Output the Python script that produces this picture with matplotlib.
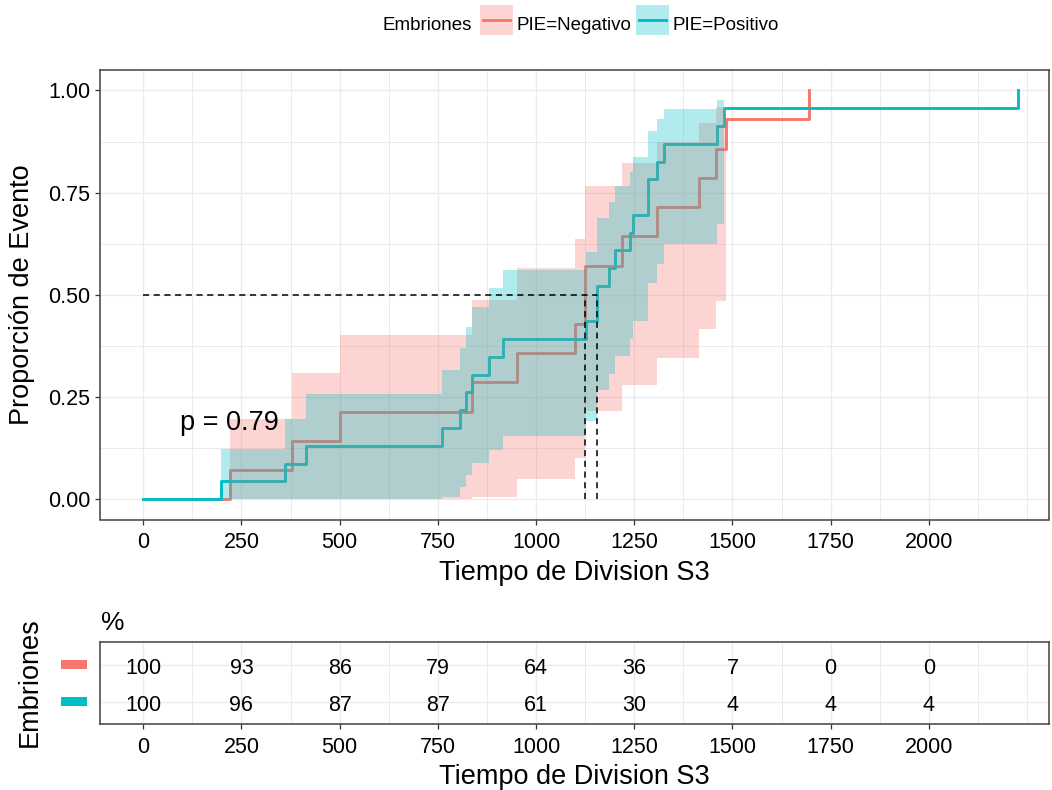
import numpy as np
import matplotlib
matplotlib.use('Agg')
import matplotlib.pyplot as plt
from matplotlib.patches import Rectangle
from matplotlib.lines import Line2D
from matplotlib.transforms import offset_copy

plt.rcParams['font.family'] = ['Liberation Sans', 'DejaVu Sans']

# curva acumulada de eventos (Kaplan-Meier, fun = "event")
neg_time = [0, 220, 378, 501, 837, 951, 1099, 1125, 1218, 1309, 1416, 1458, 1483, 1696]
neg_est = [0, 0.071, 0.143, 0.214, 0.286, 0.357, 0.429, 0.571, 0.643, 0.714, 0.786, 0.857, 0.929, 1.0]
# banda de confianza (termina en el ultimo tiempo con valor finito)
neg_low = [0, 0, 0, 0, 0.005, 0.050, 0.101, 0.215, 0.279, 0.346, 0.416, 0.485, 0.528]
neg_up = [0, 0.197, 0.308, 0.402, 0.487, 0.565, 0.637, 0.766, 0.823, 0.875, 0.921, 0.960, 0.989]

pos_time = [0, 198, 361, 414, 760, 806, 822, 838, 881, 917, 1127, 1156, 1187, 1201,
            1239, 1246, 1286, 1307, 1326, 1460, 1479, 2226]
pos_est = [0, 0.043, 0.087, 0.130, 0.174, 0.217, 0.261, 0.304, 0.348, 0.391, 0.435, 0.522,
           0.565, 0.609, 0.652, 0.696, 0.783, 0.826, 0.870, 0.913, 0.957, 1.0]
pos_low = [0, 0, 0, 0, 0.004, 0.029, 0.058, 0.088, 0.121, 0.155, 0.191, 0.267, 0.307, 0.349,
           0.391, 0.435, 0.528, 0.576, 0.625, 0.673, 0.704]
pos_up = [0, 0.123, 0.195, 0.258, 0.315, 0.369, 0.420, 0.469, 0.516, 0.561, 0.605, 0.688,
          0.727, 0.765, 0.801, 0.836, 0.900, 0.929, 0.955, 0.977, 0.994]

medians = [1125, 1156]
p_text = 'p = 0.79'

# tabla de porcentajes en riesgo
risk_times = [0, 250, 500, 750, 1000, 1250, 1500, 1750, 2000]
neg_pct = [100, 93, 86, 79, 64, 36, 7, 0, 0]
pos_pct = [100, 96, 87, 87, 61, 30, 4, 4, 4]

labels = ['PIE=Negativo', 'PIE=Positivo']
red = '#F8766D'
teal = '#00BFC4'

W, H = 1052, 790


def fx(x):
    return x / W


def fy(y):
    return 1 - y / H


fig = plt.figure(figsize=(W / 100, H / 100), dpi=100)
ax = fig.add_axes([fx(100), fy(519.5), fx(1049) - fx(100), fy(70) - fy(519.5)])
tab = fig.add_axes([fx(100), fy(724), fx(1049) - fx(100), fy(642.3) - fy(724)])

xmaj = np.arange(0, 2001, 250)
xmin = [125, 375, 625, 875, 1125, 1375, 1625, 1875, 2125, 2250]
grid_col = '#EBEBEB'
spine_col = '#404040'

for a in (ax, tab):
    a.set_xlim(-110, 2306)
    a.set_xticks(xmaj)
    a.set_xticks(xmin, minor=True)
    a.grid(which='major', color=grid_col, lw=1.0)
    a.grid(which='minor', color=grid_col, lw=0.7)
    a.set_axisbelow(True)
    for s in a.spines.values():
        s.set_color(spine_col)
        s.set_linewidth(1.1)
    a.tick_params(which='major', length=3.6, width=0.9, color='#333333',
                  labelsize=15.5, pad=3.5, labelcolor='black')
    a.tick_params(axis='x', which='major', pad=5.5)
    a.tick_params(which='minor', length=0)

# panel principal
ax.set_ylim(-0.05, 1.05)
ax.set_yticks([0, 0.25, 0.5, 0.75, 1.0])
ax.set_yticklabels(['0.00', '0.25', '0.50', '0.75', '1.00'])
ax.set_yticks([0.125, 0.375, 0.625, 0.875], minor=True)

ax.step(neg_time, neg_est, where='post', color=red, lw=2.1, zorder=2)
ax.step(pos_time, pos_est, where='post', color=teal, lw=2.1, zorder=2)
ax.fill_between(neg_time[:len(neg_low)], neg_low, neg_up, step='post',
                color=red, alpha=0.3, lw=0, zorder=3)
ax.fill_between(pos_time[:len(pos_low)], pos_low, pos_up, step='post',
                color=teal, alpha=0.3, lw=0, zorder=3)

ax.hlines(0.5, 0, max(medians), colors='black', linestyles=(0, (4, 3)), lw=1.1, zorder=5)
ax.vlines(medians, 0, 0.5, colors='black', linestyles=(0, (4, 3)), lw=1.1, zorder=5)

ax.text(93, 0.168, p_text, fontsize=19.5, ha='left', va='baseline', zorder=6)

ax.set_ylabel('Proporción de Evento', fontsize=19.5, va='center')
ax.yaxis.set_label_coords((fx(22) - fx(100)) / (fx(1049) - fx(100)), 0.5)
fig.text(0.5 * (fx(100) + fx(1049)), fy(580), 'Tiempo de Division S3',
         fontsize=19.5, ha='center', va='baseline')

# tabla
tab.set_ylim(0.4, 2.6)
tab.set_yticks([1, 2])
tab.set_yticklabels(['', ''])
tab.tick_params(axis='y', length=0)
num_tr = offset_copy(tab.transData, fig=fig, y=-4, units='dots')
for t, v in zip(risk_times, neg_pct):
    tab.text(t, 2, str(v), ha='center', va='center', fontsize=15.5, transform=num_tr)
for t, v in zip(risk_times, pos_pct):
    tab.text(t, 1, str(v), ha='center', va='center', fontsize=15.5, transform=num_tr)

ytr = tab.get_yaxis_transform()
for yv, c in ((2, red), (1, teal)):
    tab.add_patch(Rectangle((-0.041, yv - 0.12), 0.027, 0.24, transform=ytr,
                            color=c, clip_on=False, lw=0))

fig.text(fx(101), fy(630), '%', fontsize=19, ha='left', va='baseline')
fig.text(fx(30), fy(682), 'Embriones', fontsize=19.5, rotation=90, ha='center', va='center')
fig.text(0.5 * (fx(100) + fx(1049)), fy(784), 'Tiempo de Division S3',
         fontsize=19.5, ha='center', va='baseline')

# leyenda superior
fig.text(fx(382), fy(30), 'Embriones', fontsize=13.5, ha='left', va='baseline')
for x0, c, lab, xl in ((480, red, labels[0], 516.5), (635.7, teal, labels[1], 672)):
    fig.add_artist(Rectangle((fx(x0), fy(35)), fx(33), fy(5) - fy(35),
                             transform=fig.transFigure, color=c, alpha=0.3, lw=0))
    fig.add_artist(Line2D([fx(x0 + 3), fx(x0 + 30)], [fy(20), fy(20)],
                          transform=fig.transFigure, color=c, lw=2.1))
    fig.text(fx(xl), fy(30), lab, fontsize=13.5, ha='left', va='baseline')

fig.savefig('out.png', dpi=100)
